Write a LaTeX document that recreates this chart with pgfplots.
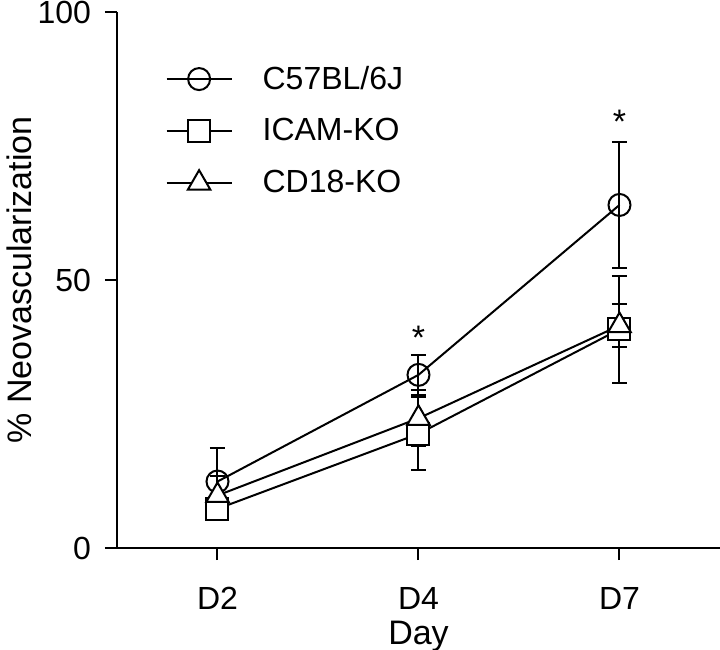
\documentclass[border=0pt]{standalone}
\usepackage{fontspec}
\setmainfont{Liberation Sans}
\usepackage{pgfplots}
\pgfplotsset{compat=1.18}
\usepackage{pgfplotstable}

\pgfplotstableread{
x y err
0 12.4 6.3
1 32.3 3.8
2 64.0 11.7
}\cfiftyseven
\pgfplotstableread{
x y err
0 7.3 1.0
1 21.3 6.8
2 40.8 10.0
}\icam
\pgfplotstableread{
x y err
0 9.8 3.6
1 24.2 5.2
2 41.5 4.0
}\cdeighteen

\begin{document}
\begin{tikzpicture}
\begin{axis}[
  at={(0,0)}, anchor=south west,
  scale only axis,
  width=301.5pt, height=268pt,
  xmin=-0.5, xmax=2.5,
  ymin=0, ymax=100,
  axis lines=left,
  axis line style={line width=1pt, -},
  xtick={0,1,2},
  xticklabels={D2,D4,D7},
  ytick={0,50,100},
  tick align=outside,
  major tick length=6pt,
  tick style={line width=1pt, black},
  /pgf/number format/assume math mode=true,
  tick label style={font=\fontsize{16}{19}\selectfont},
  xticklabel style={yshift=-10pt},
  yticklabel style={xshift=-3.5pt},
  label style={font=\fontsize{17}{20}\selectfont},
  xlabel={Day},
  ylabel={\% Neovascularization},
  xlabel style={at={(axis description cs:0.5,-0.165)}, anchor=center},
  ylabel style={at={(axis description cs:-0.1625,0.5)}, anchor=center},
  every axis plot/.append style={line width=1pt, black},
  legend style={at={(axis description cs:0.07,0.915)}, anchor=north west,
    draw=none, fill=none, font=\fontsize{16}{19}\selectfont,
    row sep=9.25pt, column sep=13pt},
  legend cell align=left,
  legend image code/.code={%
    \draw[mark repeat=2,mark phase=2,#1] plot coordinates {(0pt,0pt) (16.25pt,0pt) (32.5pt,0pt)};},
  clip=false,
]
\addplot[black, mark=o, mark size=5.5pt, mark options={fill=white, solid, line width=1pt},
  error bars/.cd, y dir=both, y explicit,
  error bar style={line width=1pt, black},
  error mark options={rotate=90, mark size=3.75pt, line width=1pt, black}]
  table[x=x, y=y, y error=err] {\cfiftyseven};
\addlegendentry{C57BL/6J}
\addplot[black, mark=square*, mark size=5.5pt, mark options={fill=white, solid, line width=1pt},
  error bars/.cd, y dir=both, y explicit,
  error bar style={line width=1pt, black},
  error mark options={rotate=90, mark size=3.75pt, line width=1pt, black}]
  table[x=x, y=y, y error=err] {\icam};
\addlegendentry{ICAM-KO}
\addplot[black, mark=triangle*, mark size=6.5pt, mark options={fill=white, solid, line width=1pt},
  error bars/.cd, y dir=both, y explicit,
  error bar style={line width=1pt, black},
  error mark options={rotate=90, mark size=3.75pt, line width=1pt, black}]
  table[x=x, y=y, y error=err] {\cdeighteen};
\addlegendentry{CD18-KO}
\node[anchor=base, font=\fontsize{17}{20}\selectfont, inner sep=0pt] at (axis cs:1,37.0) {*};
\node[anchor=base, font=\fontsize{17}{20}\selectfont, inner sep=0pt] at (axis cs:2,77.4) {*};
\end{axis}
\pgfresetboundingbox
\path[use as bounding box] (-58.5pt,-51pt) rectangle (301.5pt,274pt);
\end{tikzpicture}
\end{document}
